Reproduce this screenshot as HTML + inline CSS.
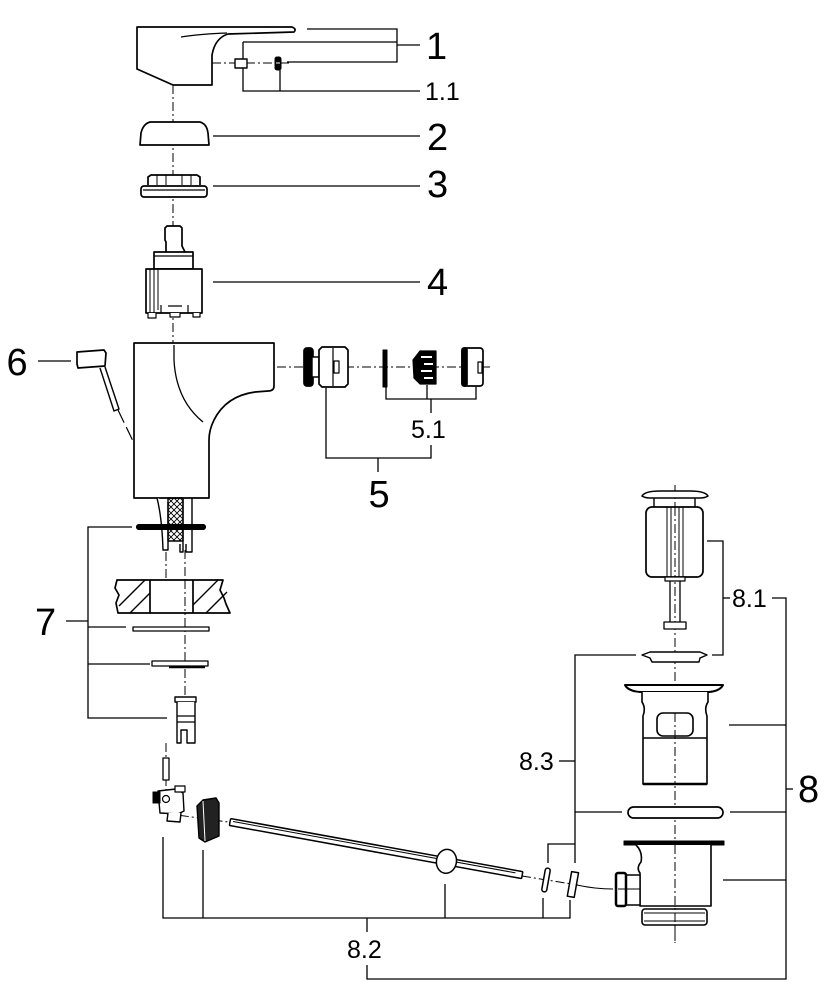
<!DOCTYPE html>
<html><head><meta charset="utf-8"><style>html,body{margin:0;padding:0;background:#fff;}svg{display:block;}</style></head>
<body>
<svg width="832" height="1000" viewBox="0 0 832 1000" xmlns="http://www.w3.org/2000/svg">
<rect width="832" height="1000" fill="#fff"/>
<defs>
<pattern id="xh" width="6" height="6" patternUnits="userSpaceOnUse">
<path d="M0,0 L6,6 M6,0 L0,6" stroke="#000" stroke-width="0.9"/>
</pattern>
</defs>

<!-- center lines (dash-dot) -->
<g fill="none" stroke="#000" stroke-width="1" stroke-dasharray="9,3,2,3">
<path d="M173,85 V345"/>
<path d="M212,63 H290"/>
<path d="M277,367 H492"/>
<path d="M185,550 V697"/>
<path d="M166,552 V580"/>
<path d="M166,743 V790"/>
<path d="M675,485 V943"/>
<path d="M163,813 L228,822"/>
<path d="M522,876 L578,885"/>
</g>
<path d="M577,885 Q595,889 613,889" fill="none" stroke="#000" stroke-width="1"/>
<path d="M118,410 L147,470" fill="none" stroke="#000" stroke-width="1.2" stroke-dasharray="14,5"/>

<!-- leader lines -->
<g fill="none" stroke="#000" stroke-width="1.3">
<path d="M307,29 H397 V62 H287"/>
<path d="M243,42 H397"/>
<path d="M397,45 H420"/>
<path d="M243,42 V91 H420"/>
<path d="M280,70 V91"/>
<path d="M213,136 H420"/>
<path d="M213,186 H420"/>
<path d="M213,282 H420"/>
<path d="M38,361 H71"/>
<path d="M386,387 V399 H476 V387"/>
<path d="M427,385 V399"/>
<path d="M431,399 V413"/>
<path d="M431,445 V458 H326 V388"/>
<path d="M378,458 V472"/>
<path d="M132,527 H88 V718 H167"/>
<path d="M88,627 H126"/>
<path d="M88,664 H150"/>
<path d="M66,621 H88"/>
<path d="M163,837 V918 H570 V900"/>
<path d="M203,850 V918"/>
<path d="M445,884 V918"/>
<path d="M543,898 V918"/>
<path d="M367,918 V932"/>
<path d="M367,965 V979 H786 V598 H772"/>
<path d="M707,541 H723 V655 H712"/>
<path d="M723,598 H730"/>
<path d="M729,725 H786"/>
<path d="M730,812 H786"/>
<path d="M723,880 H786"/>
<path d="M786,789 H793"/>
<path d="M636,655 H575 V863"/>
<path d="M622,812 H575"/>
<path d="M559,761 H575"/>
<path d="M548,863 V844 H575"/>
</g>

<!-- parts -->
<g fill="#fff" stroke="#000" stroke-width="1.7" stroke-linejoin="round">
<!-- handle 1 -->
<path d="M137,27 L292,27 Q297,29 294,32 L228,34 Q215,38 212,55 L212,85 L173,85 L137,69 Z"/>
<path d="M181,37 Q200,34 227,33" fill="none" stroke-width="1.2"/>
<rect x="235" y="59" width="12" height="9" stroke-width="1.4"/>
<rect x="275" y="57" width="6" height="13" rx="2" fill="#000" stroke-width="1"/>
<path d="M276,63 H280" stroke="#fff" stroke-width="1"/>

<!-- cap 2 -->
<path d="M150,122 L200,122 Q207,124 208,133 L209,145 L140,145 L141,133 Q143,124 150,122 Z"/>

<!-- part 3 -->
<path d="M148,185 V177 L151,175 H197 L200,177 V185"/>
<path d="M157,175 V185 M166,175 V185 M182,175 V185 M191,175 V185" fill="none" stroke-width="1"/>
<rect x="141" y="186" width="66" height="11" rx="3"/>
<path d="M143,190 H205" fill="none" stroke-width="1.2"/>

<!-- cartridge 4 -->
<path d="M166,252 V242 L165,240 V228 L167,226 H180 L182,228 V246 L185,252"/>
<rect x="154" y="252" width="39" height="17"/>
<path d="M154,256 H193" fill="none" stroke-width="1.2"/>
<rect x="146" y="269" width="56" height="44"/>
<path d="M150,269 V313 M154,269 V313 M158,269 V310" fill="none" stroke-width="1"/>
<path d="M148,313 V318 H156 V313 M170,313 V317 H180 V313 M193,313 V317 H200 V313" stroke-width="1.2"/>
<path d="M161,305 V313 M188,305 V313 M168,306 H182" fill="none" stroke-width="1.2"/>

<!-- lever 6 -->
<path d="M77,352 L104,350 L106,353 L105,366 L78,368 L77,364 Z"/>
<path d="M100,368 L114,411 L119,409 L105,367" stroke-width="1.4"/>

<!-- body -->
<path d="M134,343 H274 V386 Q274,391 268,391 L255,392 Q226,396 214,420 Q209,430 209,440 V498 H134 Z"/>
<path d="M174,345 V360 Q176,400 203,422" fill="none" stroke-width="1.3"/>

<!-- aerator 5 -->
<rect x="304" y="348" width="9" height="38" rx="3" fill="#000"/>
<rect x="312" y="357" width="7" height="20" stroke-width="1.4"/>
<path d="M319,350 L322,347 H345 L348,350 V384 L345,387 H322 L319,384 Z"/>
<path d="M333,348 V386" fill="none" stroke-width="1.2"/>
<rect x="334" y="361" width="5" height="12" stroke-width="1.2"/>
<rect x="383" y="350" width="4" height="37" fill="#000" stroke-width="1"/>
<path d="M420,351 H436 V384 H420 L414,378 L413,360 Z" fill="#000" stroke-width="1.2"/>
<path d="M421,357 H432 M424,364 H433 M421,371 H432 M424,378 H433" fill="none" stroke="#fff" stroke-width="2"/>
<rect x="462" y="348" width="21" height="38" rx="3"/>
<rect x="462" y="348" width="5" height="38" rx="2" fill="#000"/>
<rect x="478" y="362" width="4" height="11" stroke-width="1.2"/>

<!-- o-ring on hoses -->
<path d="M139,527 H203" stroke-width="6" stroke-linecap="round" fill="none"/>
<!-- hoses -->
<path d="M157,498 Q162,518 163,550 H168 V502" fill="#fff" stroke-width="1.4"/>
<rect x="168" y="498" width="15" height="43" fill="url(#xh)" stroke-width="1.4"/>
<path d="M183,498 V552 H180 V544 M192,498 V552 H186 V544" fill="none" stroke-width="1.4"/>
<path d="M139,527 H203" stroke-width="6" stroke-linecap="round" fill="none"/>

<!-- countertop -->
<path d="M117,580 H223 L220,590 L224,598 L226,604 L230,613 H118 L116,603 L119,595 L115,588 Z"/>
<path d="M150,580 V613 M193,580 V613" fill="none"/>
<path d="M119,606 L145,580 M130,613 L150,593 M193,605 L218,580 M206,613 L227,592" fill="none" stroke-width="1.4"/>

<!-- washers 7 -->
<rect x="133" y="627" width="76" height="4" stroke-width="1.3"/>
<rect x="152" y="661" width="56" height="5" stroke-width="1.3"/>
<path d="M169,667 H205" fill="none" stroke-width="2.5"/>
<!-- nut -->
<rect x="175" y="697" width="21" height="5" stroke-width="1.4"/>
<path d="M177,702 V743 H181 V730 H187 V743 H195 V702" stroke-width="1.4"/>
<path d="M177,716 H195 M177,722 H195" fill="none" stroke-width="1.2"/>
<rect x="163" y="758" width="6" height="22" stroke-width="1.3"/>

<!-- tap fitting -->
<path d="M158,791 L176,789 L183,793 L184,811 L178,814 L160,813 Z" stroke-width="1.4"/>
<rect x="153" y="792" width="7" height="11" fill="#000" stroke-width="1"/>
<rect x="175" y="786" width="10" height="6" stroke-width="1.2"/>
<path d="M168,813 L167,821 L180,822 L181,813" stroke-width="1.4"/>
<circle cx="166" cy="799" r="3.5" stroke-width="1.2"/>
<!-- knurled nut -->
<path d="M197,806 L203,800 L216,798 L219,803 L219,836 L205,842 L199,838 Z" fill="#222" stroke-width="1.4"/>
<path d="M203,801 L205,841" stroke="#fff" stroke-width="1" fill="none"/>

<!-- rod -->
<g transform="translate(230,822) rotate(10.3)">
<rect x="0" y="-3.5" width="297" height="7" rx="1" stroke-width="1.5"/>
<path d="M3,-1 H290" fill="none" stroke-width="1"/>
<ellipse cx="220" cy="0" rx="10" ry="12" stroke-width="1.5"/>
</g>
<!-- small rings -->
<g transform="translate(546,880) rotate(10)"><rect x="-2.5" y="-12" width="5" height="24" rx="2.5" stroke-width="1.5"/></g>
<g transform="translate(573,884) rotate(10)"><rect x="-3.5" y="-12" width="7" height="25" stroke-width="1.5"/></g>

<!-- plug 8.1 -->
<path d="M642,496 Q645,491 660,491 H690 Q705,491 708,496 Q705,498 700,498 H650 Q645,498 642,496 Z" stroke-width="1.6"/>
<path d="M654,498 V507 M695,498 V507" fill="none" stroke-width="1.4"/>
<rect x="646" y="507" width="57" height="70" rx="6"/>
<path d="M667,507 V577 M671,507 V577 M679,507 V577 M683,507 V577" fill="none" stroke-width="1"/>
<rect x="665" y="577" width="20" height="4" stroke-width="1.2"/>
<path d="M670,581 V622 M680,581 V622" fill="none" stroke-width="1.3"/>
<rect x="664" y="622" width="22" height="7" stroke-width="1.3"/>
<path d="M642,655 L650,652 H700 L707,655 L700,658 L699,662 H652 L650,658 Z" stroke-width="1.4"/>

<!-- strainer -->
<path d="M625,685 H723 Q720,691 709,692 H640 Q628,691 625,685 Z" stroke-width="2"/>
<path d="M642,692 V702 Q646,708 643,716 V784 H707 V716 Q704,708 708,702 V692" stroke-width="1.6"/>
<rect x="657" y="713" width="36" height="23" rx="6" stroke-width="1.6"/>
<path d="M643,738 H707" fill="none" stroke-width="1.4"/>
<path d="M643,784 H707" fill="none" stroke-width="2.5"/>

<!-- o-ring 8 -->
<rect x="628" y="807" width="95" height="11" rx="5.5" stroke-width="1.7"/>

<!-- drain body -->
<path d="M624,841 H724 V845 H624 Z" fill="#000" stroke-width="1"/>
<path d="M636,845 Q643,852 641,862 Q636,868 640,873 V906 H711 V845" stroke-width="1.6"/>
<rect x="626" y="875" width="14" height="30" stroke-width="1.4"/>
<rect x="616" y="873" width="10" height="33" rx="2" stroke-width="2.5"/>
<path d="M618,889 H640" fill="none" stroke-width="1"/>
<rect x="642" y="909" width="65" height="16" rx="3" stroke-width="1.6"/>
<path d="M644,913 H705 M644,921 H705" fill="none" stroke-width="1"/>
</g>

<!-- re-draw center line segments over white parts where visible -->
<g fill="none" stroke="#000" stroke-width="1" stroke-dasharray="9,3,2,3">
<path d="M675,713 V784"/>
<path d="M675,845 V943"/>
<path d="M675,507 V577"/>
<path d="M185,580 V613"/>
</g>

<!-- labels -->
<g font-family="'Liberation Sans', Arial, sans-serif" fill="#000">
<text x="426" y="59" font-size="38">1</text>
<text x="425" y="100" font-size="25">1.1</text>
<text x="427" y="150" font-size="38">2</text>
<text x="427" y="197" font-size="38">3</text>
<text x="427" y="295" font-size="38">4</text>
<text x="6.5" y="375" font-size="38">6</text>
<text x="411" y="438" font-size="25">5.1</text>
<text x="368.5" y="507" font-size="38">5</text>
<text x="35" y="635" font-size="38">7</text>
<text x="732" y="607" font-size="25">8.1</text>
<text x="519" y="770" font-size="25">8.3</text>
<text x="798" y="802" font-size="38">8</text>
<text x="347" y="958" font-size="25">8.2</text>
</g>
</svg>
</body></html>
